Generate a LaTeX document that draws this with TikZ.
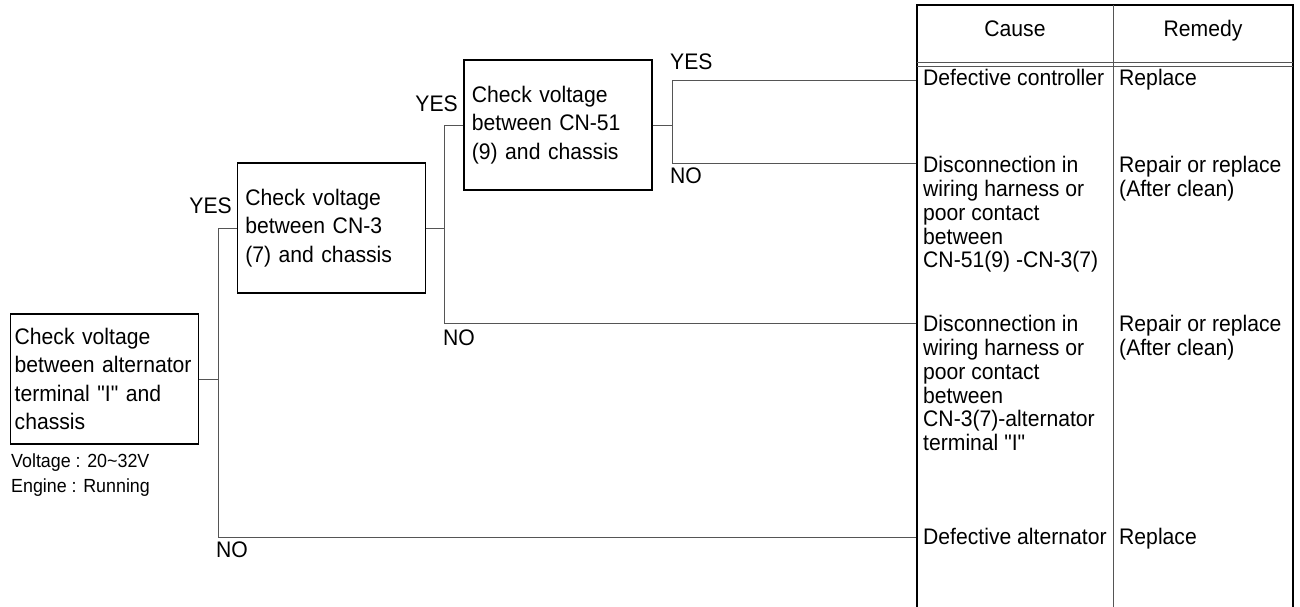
\documentclass[tikz,border=0pt]{standalone}
\usepackage{fontspec}
\setmainfont{Liberation Sans}[Ligatures=TeXOff, FakeStretch=0.94]
\usetikzlibrary{positioning}
\definecolor{wireGray}{HTML}{555555}

\begin{document}
\begin{tikzpicture}[
    x=1pt, y=-1pt,
    chkbox/.style={
      rectangle, draw=black, line width=1.3pt,
      minimum width=188pt, minimum height=130pt,
      text width=180pt, inner xsep=4pt, align=left,
      font=\fontsize{22.5}{28.5}\selectfont
    },
    wire/.style={line width=0.9pt, draw=wireGray},
    answer/.style={inner sep=0pt, font=\fontsize{22.5}{24}\selectfont},
    cell/.style={inner sep=0pt, align=left, anchor=north west,
      execute at begin node=\strut, font=\fontsize{22.5}{23.7}\selectfont},
    head/.style={inner sep=0pt, anchor=base, font=\fontsize{22.5}{24}\selectfont},
    note/.style={inner sep=0pt, align=left, anchor=base west, font=\fontsize{19}{25}\selectfont},
    tabrule/.style={line width=1.3pt, draw=black},
    tabthin/.style={line width=0.8pt, draw=wireGray}
  ]
    \useasboundingbox (0,0) rectangle (1300,607);

    \node[chkbox] (chk1) at (104.7,379) {Check voltage\\between alternator\\terminal "I" and\\chassis};
    \node[chkbox, inner xsep=8pt, text width=172pt] (chk2) at (331.3,228) {Check voltage\\between CN-3\\(7) and chassis};
    \node[chkbox, inner xsep=8pt, text width=172pt] (chk3) at (557.9,125) {Check voltage\\between CN-51\\(9) and chassis};
    \node[note] (cond) at (11,492) {Voltage : 20\textasciitilde32V\\Engine : Running};

    \coordinate (j1) at (218,0);
    \coordinate (j2) at (444,0);
    \coordinate (j3) at (672,0);
    \coordinate (row1) at (917,80);
    \coordinate (row2) at (917,163);
    \coordinate (row3) at (917,323);
    \coordinate (row4) at (917,537);

    \draw[wire] (chk1.east) -- (chk1.east -| j1);
    \draw[wire] (chk2.west) -| (j1 |- row4) -- (row4);
    \draw[wire] (chk2.east) -- (chk2.east -| j2);
    \draw[wire] (chk3.west) -| (j2 |- row3) -- (row3);
    \draw[wire] (chk3.east) -- (chk3.east -| j3);
    \draw[wire] (row1) -| (j3 |- row2) -- (row2);

    \node[answer, anchor=base east] (yes1) at (232,213) {YES};
    \node[answer, anchor=base west] (no1) at (216,557) {NO};
    \node[answer, anchor=base east] (yes2) at (458,112) {YES};
    \node[answer, anchor=base west] (no2) at (443,345) {NO};
    \node[answer, anchor=base west] (yes3) at (670,70) {YES};
    \node[answer, anchor=base west] (no3) at (670,183) {NO};

    \draw[tabrule] (917,607) -- (917,5) -- (1293,5) -- (1293,607);
    \draw[tabthin] (1113,5) -- (1113,607);
    \draw[tabthin] (917,62) -- (1293,62) (917,66) -- (1293,66);

    \node[head] (cause) at (1015,37) {Cause};
    \node[head] (remedy) at (1203,37) {Remedy};

    \node[cell] (cause1) at (923,68.4) {Defective controller};
    \node[cell] (remedy1) at (1119,68.4) {Replace};
    \node[cell] (cause2) at (923,156.4) {Disconnection in\\wiring harness or\\poor contact\\between\\CN-51(9) -CN-3(7)};
    \node[cell] (remedy2) at (1119,156.4) {Repair or replace\\(After clean)};
    \node[cell] (cause3) at (923,315.4) {Disconnection in\\wiring harness or\\poor contact\\between\\CN-3(7)-alternator\\terminal "I"};
    \node[cell] (remedy3) at (1119,315.4) {Repair or replace\\(After clean)};
    \node[cell] (cause4) at (923,527.4) {Defective alternator};
    \node[cell] (remedy4) at (1119,527.4) {Replace};
  \end{tikzpicture}
\end{document}
